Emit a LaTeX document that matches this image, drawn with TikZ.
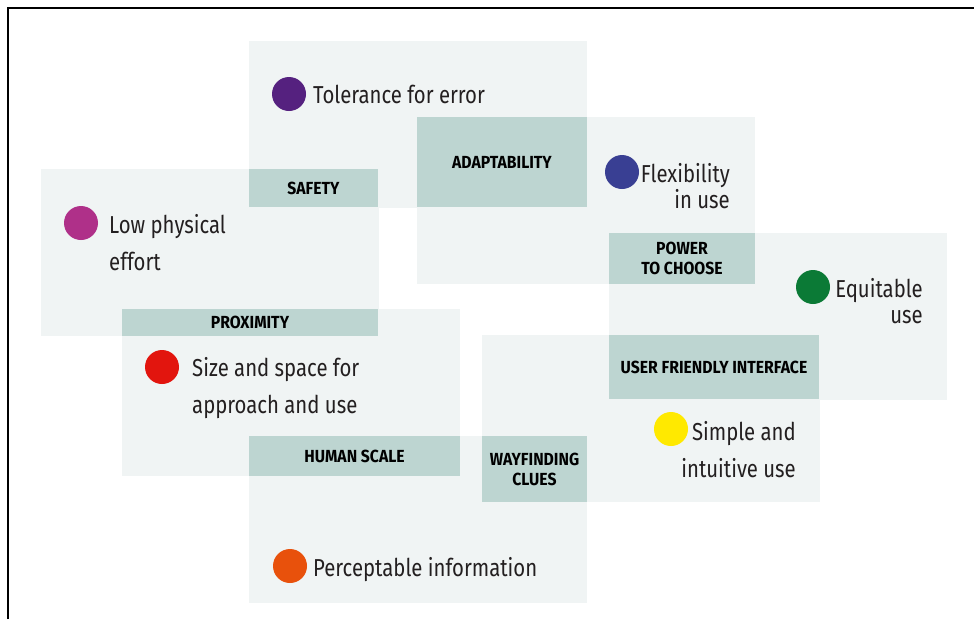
\documentclass[tikz,border=0pt]{standalone}
\usepackage{fontspec}
\setmainfont{Fira Sans}[FakeStretch=0.83]
\newfontfamily\barfont{Fira Sans}[FakeStretch=0.9]
\usetikzlibrary{positioning}
\definecolor{zonetint}{HTML}{F0F4F4}
\definecolor{bartint}{HTML}{BDD5D1}
\definecolor{ink}{HTML}{231F20}
\definecolor{cerror}{HTML}{55217F}
\definecolor{ceffort}{HTML}{AF3089}
\definecolor{cflex}{HTML}{393F93}
\definecolor{cequit}{HTML}{0B7A36}
\definecolor{csize}{HTML}{E2150E}
\definecolor{csimple}{HTML}{FFE900}
\definecolor{cinfo}{HTML}{E8510C}

\tikzset{
  zone/.style={fill=zonetint},
  bar/.style={fill=bartint, inner sep=0pt, align=center, text=black,
    font=\barfont\bfseries\fontsize{17.5}{20}\selectfont},
  dot/.style={circle, inner sep=0pt, minimum size=34pt},
  item/.style={inner sep=0pt, text=ink, font=\fontsize{24.5}{37}\selectfont},
  tightitem/.style={item, font=\fontsize{24.5}{26}\selectfont}
}

\begin{document}
\begin{tikzpicture}[x=1pt,y=-1pt]
        \pgfmathsetmacro{\zw}{337.5}
        \pgfmathsetmacro{\zh}{166.5}
        \useasboundingbox (0,0) rectangle (974,619);

        \draw[line width=2.2pt, black] (8,619) -- (8,8) -- (974,8);

        \foreach \zx/\zy in {249/41, 41/169, 417/117, 122/309, 609/233, 249/436, 482/335}
            \fill[zone] (\zx,\zy) rectangle ++(\zw,\zh);

        \node[bar, minimum width=129pt, minimum height=38pt] (safety) at (313.5,188) {SAFETY};
        \node[bar, minimum width=170pt, minimum height=90pt] (adapt) at (502,162) {ADAPTABILITY};
        \node[bar, minimum width=146pt, minimum height=51pt] (power) at (682,258.5) {POWER\\TO CHOOSE};
        \node[bar, minimum width=256pt, minimum height=27pt] (proximity) at (250,322.5) {PROXIMITY};
        \node[bar, minimum width=210pt, minimum height=64pt] (interface) at (714,367) {USER FRIENDLY INTERFACE};
        \node[bar, minimum width=211pt, minimum height=40pt] (human) at (354.5,456) {HUMAN SCALE};
        \node[bar, minimum width=105pt, minimum height=66pt] (wayfind) at (534.5,469) {WAYFINDING\\CLUES};

        \node[dot, fill=cerror] (errordot) at (289,94) {};
        \node[item, anchor=base west] (error) at (313,103) {Tolerance for error};

        \node[dot, fill=ceffort] (effortdot) at (81,223) {};
        \node[item, anchor=base west, align=left] (effort) at (109,270) {Low physical\\effort};

        \node[dot, fill=cflex] (flexdot) at (622,172) {};
        \node[tightitem, anchor=base east, align=right] (flex) at (730,208) {Flexibility\\in use};

        \node[dot, fill=cequit] (equitdot) at (813,287) {};
        \node[tightitem, anchor=base east, align=right] (equit) at (923,323) {Equitable\\use};

        \node[dot, fill=csize] (sizedot) at (162,367) {};
        \node[item, anchor=base west, align=left] (size) at (192,413) {Size and space for\\approach and use};

        \node[dot, fill=csimple] (simpledot) at (671,429) {};
        \node[item, anchor=base east, align=right] (simple) at (796,477) {Simple and\\intuitive use};

        \node[dot, fill=cinfo] (infodot) at (290,566) {};
        \node[item, anchor=base west] (info) at (313,576) {Perceptable information};
\end{tikzpicture}
\end{document}
